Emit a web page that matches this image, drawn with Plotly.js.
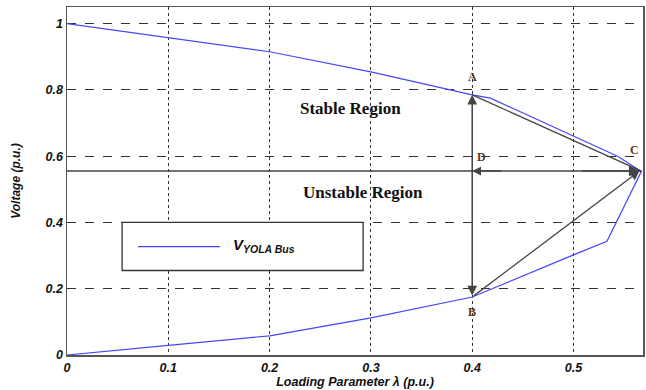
<!DOCTYPE html>
<html><head><meta charset="utf-8">
<script src="https://cdn.plot.ly/plotly-3.0.1.min.js"></script>
<style>body{margin:0;background:#fff}#c{width:646px;height:390px}</style>
</head><body><div id="c"></div>
<script>
// PV curve of YOLA bus (nose curve)
const lambda  = [0, 0.1, 0.2, 0.3, 0.4, 0.418, 0.544, 0.567, 0.533, 0.5, 0.4, 0.3, 0.2, 0.1, 0];
const voltage = [1, 0.958, 0.915, 0.854, 0.785, 0.775, 0.599, 0.554, 0.343, 0.302, 0.175, 0.112, 0.058, 0.029, 0];
const seriesName = 'V<sub>YOLA Bus</sub>';
// Key points
const ptA = [0.4, 0.785], ptB = [0.4, 0.175], ptC = [0.567, 0.555], ptD = [0.4, 0.555];
const xTicks = [0, 0.1, 0.2, 0.3, 0.4, 0.5];
const xTickText = ['0', '0.1', '0.2', '0.3', '0.4', '0.5'];
const yTicks = [0, 0.2, 0.4, 0.6, 0.8, 1];
const yTickText = ['0', '0.2', '0.4', '0.6', '0.8', '1'];

const dark = '#444';
const traces = [
  {x: lambda, y: voltage, mode: 'lines', line: {color: 'rgb(70,70,255)', width: 1.2}, name: seriesName, showlegend: false, hoverinfo: 'skip'},
  // horizontal line through the nose point
  {x: [0, ptC[0]], y: [ptC[1], ptC[1]], mode: 'lines', line: {color: dark, width: 1.6}, showlegend: false, hoverinfo: 'skip'},
  // A -> C
  {x: [ptA[0], ptC[0]], y: [ptA[1], ptC[1]], mode: 'lines', line: {color: dark, width: 1.3}, showlegend: false, hoverinfo: 'skip'}
];

const serif = 'Liberation Serif, Times New Roman, serif';
const sans = 'Liberation Sans, Arial, sans-serif';
function lbl(t, x, y, dx, dy) {
  return {text: '<b>' + t + '</b>', x: x, y: y, xref: 'x', yref: 'y', showarrow: false, xshift: dx, yshift: dy,
          font: {family: serif, size: 12, color: '#5a3a1a'}};
}
const annotations = [
  // vertical double arrow A <-> B
  {x: ptA[0], y: ptA[1], ax: ptB[0], ay: ptB[1], xref: 'x', yref: 'y', axref: 'x', ayref: 'y', showarrow: true,
   arrowside: 'end+start', arrowhead: 2, startarrowhead: 2, arrowsize: 1.3, startarrowsize: 1.3, arrowwidth: 1.5, arrowcolor: dark, text: ''},
  // B -> C
  {x: ptC[0] - 0.002, y: ptC[1], ax: ptB[0], ay: ptB[1], xref: 'x', yref: 'y', axref: 'x', ayref: 'y', showarrow: true,
   arrowhead: 2, arrowsize: 1.4, arrowwidth: 1.3, arrowcolor: dark, text: ''},
  // arrow at C along horizontal line
  {x: ptC[0] - 0.002, y: ptC[1], ax: ptC[0] - 0.06, ay: ptC[1], xref: 'x', yref: 'y', axref: 'x', ayref: 'y', showarrow: true,
   arrowhead: 2, arrowsize: 1.3, arrowwidth: 1.6, arrowcolor: dark, text: ''},
  // arrow at D pointing left
  {x: ptD[0], y: ptD[1], ax: ptD[0] + 0.03, ay: ptD[1], xref: 'x', yref: 'y', axref: 'x', ayref: 'y', showarrow: true,
   arrowhead: 2, arrowsize: 1.1, arrowwidth: 1.6, arrowcolor: dark, text: ''},
  lbl('A', ptA[0], ptA[1], 0, 18),
  lbl('B', ptB[0], ptB[1], 0, -15),
  lbl('C', ptC[0], ptC[1], -7, 21),
  lbl('D', ptD[0], ptD[1], 9, 14),
  {text: '<b>Stable Region</b>', x: 0.28, y: 0.745, xref: 'x', yref: 'y', showarrow: false,
   font: {family: serif, size: 17, color: '#111'}},
  {text: '<b>Unstable Region</b>', x: 0.292, y: 0.49, xref: 'x', yref: 'y', showarrow: false,
   font: {family: serif, size: 17, color: '#111'}},
  // legend text
  {text: '<b><i>V</i></b><sub><b><i>YOLA Bus</i></b></sub>', x: 0.162, y: 0.33, xref: 'x', yref: 'y', showarrow: false, xanchor: 'left',
   font: {family: sans, size: 15, color: '#111'}}
];

const shapes = [
  // legend box
  {type: 'rect', xref: 'x', yref: 'y', x0: 0.0544, x1: 0.2923, y0: 0.255, y1: 0.4, line: {color: '#333', width: 1.3}, fillcolor: '#fff', layer: 'above'},
  {type: 'line', xref: 'x', yref: 'y', x0: 0.07, x1: 0.151, y0: 0.327, y1: 0.327, line: {color: 'rgb(70,70,255)', width: 1.2}, layer: 'above'}
];

const axFont = {family: sans, size: 12.5, color: '#111'};
const layout = {
  width: 646, height: 390,
  margin: {l: 67, r: 3, t: 7, b: 35},
  paper_bgcolor: '#fff', plot_bgcolor: '#fff',
  showlegend: false,
  xaxis: {range: [0, 0.5686], tickvals: xTicks, ticktext: xTickText.map(t => '<b><i>' + t + '</i></b>'),
    showgrid: true, gridcolor: '#333', griddash: 'dot', gridwidth: 1, zeroline: false,
    showline: true, linecolor: '#555', linewidth: 1.5, mirror: true, ticks: '', ticklen: 0,
    tickfont: axFont, title: {text: '<b><i>Loading Parameter λ (p.u.)</i></b>', font: {family: sans, size: 12.5, color: '#111'}, standoff: 2}},
  yaxis: {range: [0, 1.05], tickvals: yTicks, ticktext: yTickText.map(t => '<b><i>' + t + '</i></b>'),
    showgrid: true, gridcolor: '#333', griddash: 'dash', gridwidth: 1, zeroline: false,
    showline: true, linecolor: '#555', linewidth: 1.5, mirror: true, ticks: '', ticklen: 0,
    tickfont: axFont, title: {text: '<b><i>Voltage (p.u.)</i></b>', font: {family: sans, size: 12, color: '#111'}, standoff: 22}},
  annotations: annotations,
  shapes: shapes
};
Plotly.newPlot('c', traces, layout, {displayModeBar: false, staticPlot: true});
</script></body></html>
